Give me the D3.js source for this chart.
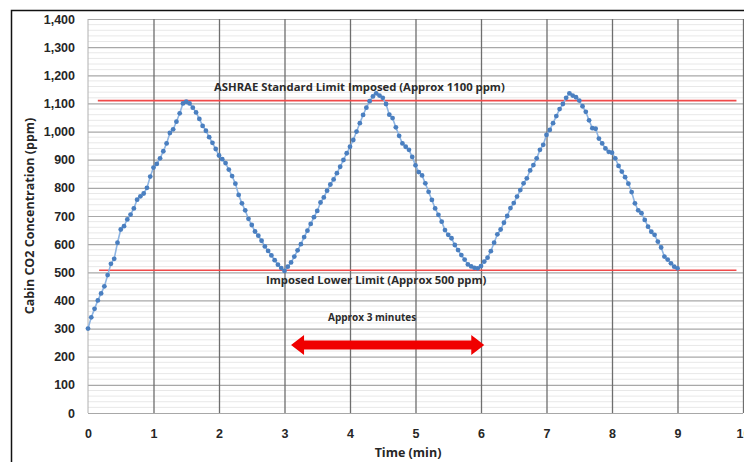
<!DOCTYPE html>
<html lang="en">
<head>
    <meta charset="UTF-8">
    <title>Cabin CO2 Concentration</title>
    <script src="https://d3js.org/d3.v7.min.js"></script>
    <style>
        body { margin: 0; background: #fff; }
        svg { display: block; font-family: "Open Sans", "Noto Sans", sans-serif; }
        .tick text { font-weight: 700; fill: #262626; }
    </style>
</head>
<body>
    <svg id="chart" width="744" height="462"></svg>
    <script>
        // CO2 readings, one sample every 3 seconds (0.05 min) from 0 to 9 min
        const sampleStepMin = 0.05;
        const co2 = [
            300, 340, 370, 400, 425, 450, 490, 530, 548, 605, 652, 664, 688, 705, 727, 758, 770, 780, 800, 840,
            872, 885, 905, 930, 958, 995, 1008, 1035, 1065, 1100, 1106, 1100, 1085, 1068, 1045, 1020, 1003, 980, 960, 938,
            915, 902, 888, 865, 842, 815, 775, 745, 720, 690, 668, 645, 630, 612, 592, 576, 560, 543, 527, 515,
            505, 520, 535, 556, 578, 600, 625, 648, 672, 696, 718, 748, 766, 790, 812, 830, 852, 875, 899, 923,
            946, 970, 1000, 1030, 1059, 1085, 1108, 1125, 1136, 1128, 1120, 1098, 1060, 1048, 1015, 985, 958, 946, 935, 910,
            880, 856, 844, 816, 786, 757, 727, 704, 680, 650, 633, 621, 597, 579, 561, 545, 528, 521, 516, 514,
            522, 538, 552, 575, 605, 635, 652, 676, 700, 728, 746, 769, 792, 816, 834, 862, 881, 905, 935, 953,
            988, 1006, 1030, 1055, 1080, 1098, 1120, 1136, 1128, 1122, 1110, 1090, 1070, 1040, 1012, 1010, 975, 958, 940, 928,
            925, 905, 878, 858, 838, 815, 785, 745, 720, 710, 686, 662, 644, 633, 609, 588, 556, 545, 532, 520,
            514
        ];

        const xTicks = [0, 1, 2, 3, 4, 5, 6, 7, 8, 9, 10];
        const yTicks = [0, 100, 200, 300, 400, 500, 600, 700, 800, 900, 1000, 1100, 1200, 1300, 1400];

        // horizontal reference lines: value, start and end time
        const limitLabels = ["ASHRAE Standard Limit Imposed (Approx 1100 ppm)", "Imposed Lower Limit (Approx 500 ppm)"];
        const limitValues = [1110, 507];
        const limitFrom = [0.15, 0.17];
        const limitTo = [9.9, 9.9];

        // double arrow marking one cycle
        const cycleLabel = "Approx 3 minutes";
        const cycleFrom = 3.1;
        const cycleTo = 6.05;
        const cycleLevel = 242;

        const svg = d3.select("#chart");
        const x = d3.scaleLinear().domain([0, 10]).range([88, 743]);
        const y = d3.scaleLinear().domain([0, 1400]).range([413, 19]);

        const points = co2.map((v, i) => ({ t: i * sampleStepMin, v: v }));

        // outer frame
        svg.append("rect")
            .attr("x", 11.5).attr("y", 10.5)
            .attr("width", 760).attr("height", 480)
            .attr("fill", "none")
            .attr("stroke", "#111")
            .attr("stroke-width", 1.5);

        // minor grid every 20 ppm
        svg.append("g")
            .selectAll("line")
            .data(d3.range(0, 1401, 20).filter(d => d % 100 !== 0))
            .join("line")
            .attr("x1", x(0)).attr("x2", x(10))
            .attr("y1", d => y(d)).attr("y2", d => y(d))
            .attr("stroke", "#e8e8e8")
            .attr("stroke-width", 1);

        // major horizontal grid
        svg.append("g")
            .attr("transform", `translate(${x(0)},0)`)
            .call(d3.axisLeft(y).tickValues(yTicks).tickSize(-(x(10) - x(0))).tickFormat(""))
            .call(g => g.select(".domain").remove())
            .call(g => g.selectAll("line").attr("stroke", "#a8a8a8").attr("stroke-width", 1.2));

        // vertical grid
        svg.append("g")
            .attr("transform", `translate(0,${y(0)})`)
            .call(d3.axisBottom(x).tickValues(xTicks.slice(1)).tickSize(-(y(0) - y(1400))).tickFormat(""))
            .call(g => g.select(".domain").remove())
            .call(g => g.selectAll("line").attr("stroke", "#6e6e6e").attr("stroke-width", 1.3));

        // left axis line
        svg.append("line")
            .attr("x1", x(0)).attr("x2", x(0))
            .attr("y1", y(0)).attr("y2", y(1400))
            .attr("stroke", "#b0b0b0");

        // y tick labels
        svg.append("g")
            .attr("transform", `translate(${x(0)},0)`)
            .call(d3.axisLeft(y).tickValues(yTicks).tickSize(0).tickPadding(13).tickFormat(d3.format(",")))
            .call(g => g.select(".domain").remove())
            .call(g => g.selectAll("text").attr("font-size", 12.5));

        // x tick labels
        svg.append("g")
            .attr("transform", `translate(0,${y(0)})`)
            .call(d3.axisBottom(x).tickValues(xTicks).tickSize(0).tickPadding(16).tickFormat(d3.format("d")))
            .call(g => g.select(".domain").remove())
            .call(g => g.selectAll("text").attr("font-size", 12.5));

        // axis titles
        svg.append("text")
            .attr("x", 408).attr("y", 457)
            .attr("text-anchor", "middle")
            .attr("font-size", 12.5).attr("font-weight", 700).attr("fill", "#262626")
            .text("Time (min)");

        svg.append("text")
            .attr("transform", "translate(34,216) rotate(-90)")
            .attr("text-anchor", "middle")
            .attr("font-size", 12.5).attr("font-weight", 700).attr("fill", "#262626")
            .text("Cabin CO2 Concentration (ppm)");

        // limit lines
        svg.append("g")
            .selectAll("line")
            .data(limitValues)
            .join("line")
            .attr("x1", (d, i) => x(limitFrom[i])).attr("x2", (d, i) => x(limitTo[i]))
            .attr("y1", d => y(d)).attr("y2", d => y(d))
            .attr("stroke", "#f04a4a")
            .attr("stroke-width", 1.6);

        // CO2 series
        svg.append("path")
            .datum(points)
            .attr("fill", "none")
            .attr("stroke", "#8db4e2")
            .attr("stroke-width", 1.6)
            .attr("d", d3.line().x(d => x(d.t)).y(d => y(d.v)));

        svg.append("g")
            .selectAll("circle")
            .data(points)
            .join("circle")
            .attr("cx", d => x(d.t))
            .attr("cy", d => y(d.v))
            .attr("r", 2.4)
            .attr("fill", "#4a7fc0");

        // annotation texts
        svg.append("text")
            .attr("x", 214).attr("y", 91)
            .attr("font-size", 11.3).attr("font-weight", 700).attr("fill", "#2b2b2b")
            .text(limitLabels[0]);

        svg.append("text")
            .attr("x", 266).attr("y", 284)
            .attr("font-size", 11.3).attr("font-weight", 700).attr("fill", "#2b2b2b")
            .text(limitLabels[1]);

        svg.append("text")
            .attr("x", 328).attr("y", 321)
            .attr("font-size", 10).attr("font-weight", 700).attr("fill", "#2b2b2b")
            .text(cycleLabel);

        // double headed arrow
        const ax0 = x(cycleFrom), ax1 = x(cycleTo), ay = y(cycleLevel);
        const head = 13, half = 4.5, wing = 10;
        svg.append("path")
            .attr("d", `M${ax0},${ay} L${ax0 + head},${ay - wing} L${ax0 + head},${ay - half} L${ax1 - head},${ay - half}
                L${ax1 - head},${ay - wing} L${ax1},${ay} L${ax1 - head},${ay + wing} L${ax1 - head},${ay + half}
                L${ax0 + head},${ay + half} L${ax0 + head},${ay + wing} Z`)
            .attr("fill", "#f00000");
    </script>
</body>
</html>
